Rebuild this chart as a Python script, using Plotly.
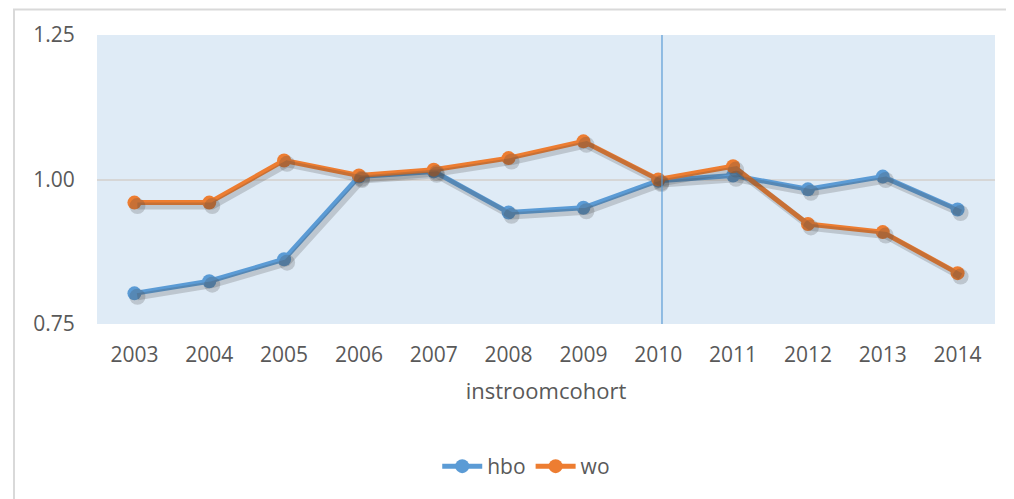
import plotly.graph_objects as go

years = ["2003", "2004", "2005", "2006", "2007", "2008", "2009", "2010", "2011", "2012", "2013", "2014"]
hbo = [0.803, 0.824, 0.862, 1.005, 1.014, 0.943, 0.951, 0.998, 1.007, 0.983, 1.005, 0.948]
wo = [0.960, 0.960, 1.033, 1.007, 1.017, 1.037, 1.066, 1.000, 1.023, 0.923, 0.909, 0.838]
y_ticks = [0.75, 1.00, 1.25]
y_labels = ["0.75", "1.00", "1.25"]

# page has an 8px body margin, so the figure is drawn 8px smaller
W, H = 1006, 491
L, R, T, B = 89, 19, 27, 168
pw, ph = W - L - R, H - T - B

BLUE = "#5B9BD5"
ORANGE = "#ED7D31"
TXT = "#595959"
FONT = "Open Sans"

fig = go.Figure()

# drop shadows drawn on a slightly offset overlay axis
sx = 3 * 12 / pw
sy = 3.5 * 0.5 / ph
for vals in (hbo, wo):
    fig.add_trace(go.Scatter(
        x=years, y=vals, xaxis="x2", yaxis="y2", mode="lines+markers",
        line=dict(color="rgba(70,70,70,0.22)", width=7),
        marker=dict(size=16, color="rgba(70,70,70,0.22)"),
        showlegend=False, hoverinfo="skip"))

fig.add_trace(go.Scatter(x=years, y=hbo, name="hbo", mode="lines+markers",
                         line=dict(color=BLUE, width=5), marker=dict(size=14, color=BLUE)))
fig.add_trace(go.Scatter(x=years, y=wo, name="wo", mode="lines+markers",
                         line=dict(color=ORANGE, width=5), marker=dict(size=14, color=ORANGE)))

fig.update_layout(
    width=W, height=H,
    margin=dict(l=L, r=R, t=T, b=B),
    paper_bgcolor="white",
    plot_bgcolor="#DFEBF6",
    font=dict(family=FONT, color=TXT, size=21),
    xaxis=dict(type="category", categoryorder="array", categoryarray=years,
               range=[-0.5, 11.5], showgrid=False, zeroline=False, showline=False,
               ticks="outside", ticklen=12, tickcolor="rgba(0,0,0,0)",
               tickfont=dict(size=21, color=TXT),
               title=dict(text="instroomcohort", font=dict(size=22, color=TXT), standoff=16)),
    yaxis=dict(range=[0.75, 1.25], tickvals=y_ticks, ticktext=y_labels,
               showgrid=True, gridcolor="#D6D6D6", gridwidth=1.5, zeroline=False, showline=False,
               ticks="outside", ticklen=17, tickcolor="rgba(0,0,0,0)",
               tickfont=dict(size=21, color=TXT)),
    xaxis2=dict(type="category", categoryorder="array", categoryarray=years,
                range=[-0.5 - sx, 11.5 - sx], overlaying="x", anchor="y2",
                visible=False),
    yaxis2=dict(range=[0.75 + sy, 1.25 + sy], overlaying="y", anchor="x2", visible=False),
    legend=dict(orientation="h", x=0.478, y=-0.493, xanchor="center", yanchor="middle",
                font=dict(size=21, color=TXT), itemwidth=40, traceorder="normal",
                bgcolor="rgba(0,0,0,0)"),
    showlegend=True,
    shapes=[
        dict(type="line", xref="x", yref="paper", x0=7.05, x1=7.05, y0=0, y1=1,
             line=dict(color=BLUE, width=1.2), layer="above"),
        dict(type="rect", xref="paper", yref="paper",
             x0=(6 - L) / pw, x1=(W + 40 - L) / pw,
             y0=(H - B - (H + 20)) / ph, y1=(H - B - 1) / ph,
             line=dict(color="#D9D9D9", width=2), fillcolor="rgba(0,0,0,0)", layer="below"),
    ],
)

fig.write_html("out.html")
